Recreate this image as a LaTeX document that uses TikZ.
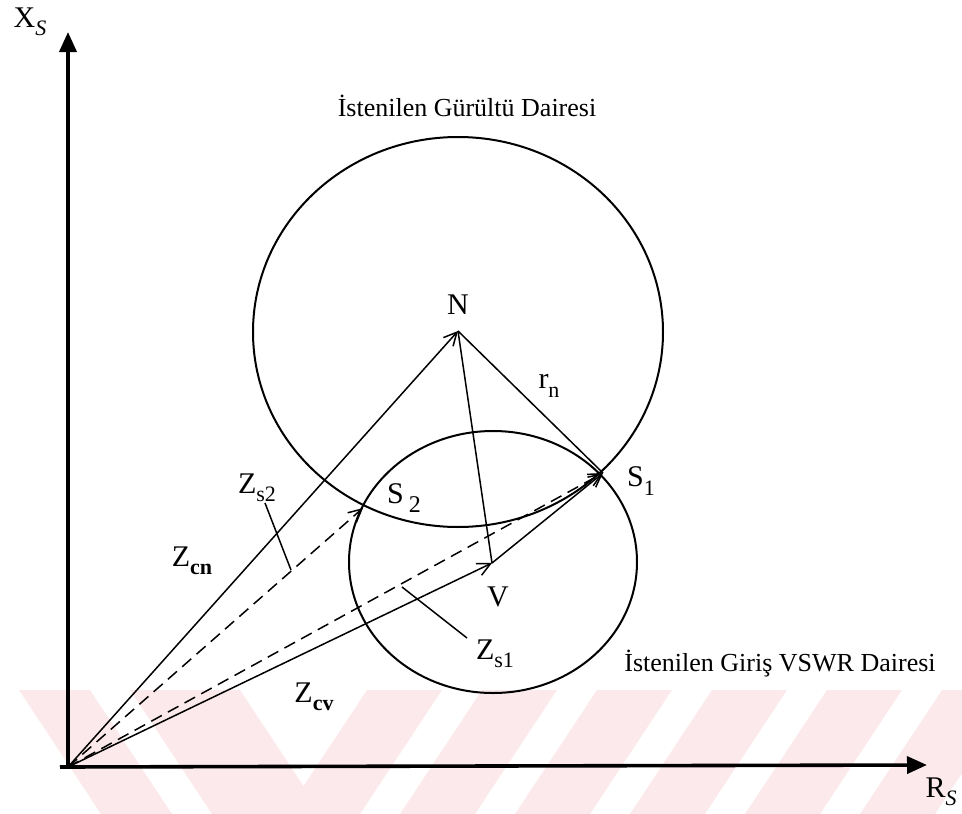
\documentclass[tikz,border=0pt]{standalone}
\usepackage{fontspec}
\setmainfont{Liberation Serif}
\usetikzlibrary{arrows.meta}
\definecolor{wm}{RGB}{252,233,235}
\newcommand\lbsub[2][22]{\raisebox{-0.28em}{\fontsize{#1}{#1}\selectfont #2}}
\begin{document}
\begin{tikzpicture}[x=1pt,y=-1pt,
  axis/.style={line width=3.6pt,-{Triangle[length=20pt,width=17pt]}},
  vec/.style={line width=1.5pt,-{Straight Barb[length=13pt,width=13pt,line width=1.5pt]}},
  dvec/.style={vec,dash pattern=on 12pt off 7pt},
  plain/.style={line width=1.5pt},
  circ/.style={line width=2pt},
  lab/.style={inner sep=0pt,font=\fontsize{30}{30}\selectfont},
  title/.style={inner sep=0pt,font=\fontsize{26}{26}\selectfont}]
\useasboundingbox (0,0) rectangle (962,814);
% watermark
\begin{scope}
\clip (0,690) rectangle (962,814);
\foreach \a in {367,482,597,712,827,942}{
  \fill[wm] (\a,690) -- (\a+75,690) -- (\a-7,814) -- (\a-82,814) -- cycle;}
\fill[wm] (19,690) -- (90,690) -- (172,814) -- (101,814) -- cycle;
\fill[wm] (130,690) -- (240,690) -- (322,814) -- (212,814) -- cycle;
\end{scope}
% points
\coordinate (O) at (68,767);
\coordinate (YT) at (68,32);
\coordinate (XT) at (927,765);
\coordinate (N) at (458,331);
\coordinate (V) at (492,563);
\coordinate (S1) at (603,473);
\coordinate (S2) at (363,508);
\coordinate (P2a) at (265,503);
\coordinate (P2b) at (291,570);
\coordinate (P1a) at (402,587);
\coordinate (P1b) at (467,638);
% circles
\draw[circ] (458,332) ellipse [x radius=205, y radius=195];
\draw[circ] (493,562) ellipse [x radius=144, y radius=131];
% axes
\draw[axis] (O) -- (YT);
\draw[axis] (60,767) -- (XT);
% vectors
\draw[vec] (O) -- (N);
\draw[dvec] (O) -- (S2);
\draw[vec] (O) -- (V);
\draw[dvec] (O) -- (S1);
\draw[vec] (V) -- (S1);
\draw[plain] (N) -- (S1);
\draw[plain] (N) -- (V);
\draw[plain] (P2a) -- (P2b);
\draw[plain] (P1a) -- (P1b);
% labels
\node[lab] (lXs) at (30,22) {X\lbsub{\itshape S}};
\node[lab] (lRs) at (941,792) {R\lbsub{\itshape S}};
\node[title] (t1) at (467,106) {İstenilen Gürültü Dairesi};
\node[title] (t2) at (780,664) {İstenilen Giriş VSWR Dairesi};
\node[lab] (lN) at (458,305) {N};
\node[lab] (lrn) at (549,386) {r\lbsub{n}};
\node[lab] (lS1) at (641,481) {S\lbsub{1}};
\node[lab] (lS2) at (404,498) {S\,\lbsub[24]{2}};
\node[lab] (lZs2) at (257,488) {Z\lbsub{s2}};
\node[lab] (lZcn) at (192,561) {Z\lbsub{\bfseries cn}};
\node[lab] (lV) at (498,597) {V};
\node[lab] (lZs1) at (495,654) {Z\lbsub{s1}};
\node[lab] (lZcv) at (314,697) {Z\lbsub{\bfseries cv}};
\end{tikzpicture}
\end{document}
